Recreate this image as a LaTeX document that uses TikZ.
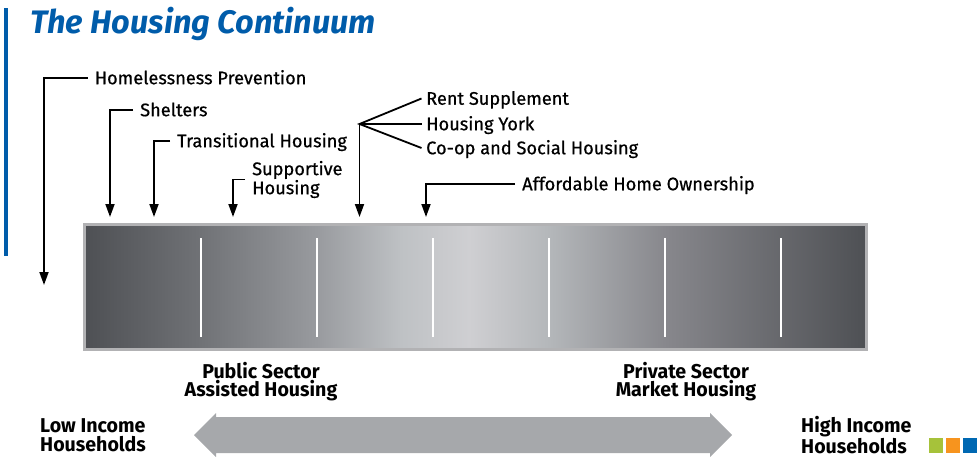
\documentclass[tikz,border=0pt]{standalone}
\usepackage{fontspec}
\setmainfont{Fira Sans}
\newfontfamily\tagfont[FakeBold=0.6]{Fira Sans}
\newfontfamily\condfont[FakeStretch=0.98]{Fira Sans}
\usetikzlibrary{arrows.meta}

\definecolor{titleblue}{RGB}{0,92,170}
\definecolor{barrim}{RGB}{178,178,180}
\definecolor{barend}{RGB}{78,80,84}
\definecolor{barA}{RGB}{112,114,118}
\definecolor{barB}{RGB}{152,154,158}
\definecolor{barC}{RGB}{190,193,196}
\definecolor{barD}{RGB}{207,207,210}
\definecolor{barE}{RGB}{180,183,186}
\definecolor{barF}{RGB}{135,135,140}
\definecolor{spangray}{RGB}{166,168,171}
\definecolor{squaregreen}{RGB}{166,194,58}
\definecolor{squareorange}{RGB}{247,148,30}
\definecolor{squareblue}{RGB}{0,104,178}

\pgfdeclarehorizontalshading{barshade}{100bp}{color(0bp)=(barend); color(25bp)=(barend);
  color(32.4bp)=(barA); color(39.8bp)=(barB); color(45.2bp)=(barC); color(49.6bp)=(barD);
  color(54.7bp)=(barE); color(62.2bp)=(barF); color(75bp)=(barend); color(100bp)=(barend)}

\tikzset{
  tag/.style={font=\tagfont\fontsize{18.2}{18}\selectfont, anchor=west, inner xsep=7pt, inner ysep=0pt, align=left},
  onetag/.style={tag, text height=12.5pt, text depth=0pt},
  fantag/.style={onetag, inner xsep=4.5pt},
  feed/.style={line width=1.8pt},
  pointer/.style={feed, -{Triangle[length=13pt,width=9pt]}},
  sector/.style={font=\condfont\bfseries\fontsize{20}{18.5}\selectfont, align=center, inner sep=0pt},
  income/.style={sector, align=left, anchor=west}
}

\begin{document}
\begin{tikzpicture}[x=1pt, y=-1pt]
    \useasboundingbox (0,0) rectangle (979,457);

    \def\tipy{217}

    \fill[titleblue] (4,8) rectangle (7.5,256);
    \node[anchor=base west, inner sep=0pt, text=titleblue, font=\bfseries\itshape\fontsize{32.5}{34}\selectfont] (title) at (30,34) {The Housing Continuum};

    % the continuum bar
    \node[draw=barrim, line width=3pt, shading=barshade, minimum width=782pt, minimum height=125pt, inner sep=0pt] (bar) at (475.5,286.5) {};
    \foreach \sx in {201,317,...,781}
        \draw[white, line width=1.6pt] (\sx,238) -- (\sx,337);

    \coordinate (tipHomeless) at (44,285);
    \coordinate (tipShelters) at (110,\tipy);
    \coordinate (tipTransit) at (154,\tipy);
    \coordinate (tipSupport) at (233,\tipy);
    \coordinate (tipFan) at (359.5,\tipy);
    \coordinate (tipOwner) at (426,\tipy);

    \node[onetag] (homeless) at (87.5,78) {Homelessness Prevention};
    \node[onetag] (shelters) at (133,110) {Shelters};
    \node[onetag] (transit) at (170,141) {Transitional Housing};
    \node[tag] (support) at (245,179.5) {Supportive\\Housing};
    \node[onetag] (owner) at (515,184) {Affordable Home Ownership};

    \draw[pointer] (homeless.west) -| (tipHomeless);
    \draw[pointer] (shelters.west) -| (tipShelters);
    \draw[pointer] (transit.west) -| (tipTransit);
    \draw[pointer] (support.west) -| (tipSupport);
    \draw[pointer] (owner.west) -| (tipOwner);

    % fan of three programs
    \coordinate (fan) at (359.5,124);
    \node[fantag] (rent) at (421.5,98.5) {Rent Supplement};
    \node[fantag] (york) at (421.5,124) {Housing York};
    \node[fantag] (coop) at (421.5,148) {Co-op and Social Housing};
    \draw[feed] (rent.west) -- (fan) -- (coop.west);
    \draw[feed] (york.west) -- (fan);
    \draw[pointer] (fan) -- (tipFan);

    \node[sector] (public) at (261,381.5) {Public Sector\\Assisted Housing};
    \node[sector] (private) at (686,381.5) {Private Sector\\Market Housing};

    \fill[spangray] (194,435) -- (216,413) -- (216,417) -- (710,417) -- (710,413) -- (732,435)
        -- (710,457) -- (710,453) -- (216,453) -- (216,457) -- cycle;
    \node[income] (low) at (40,435) {Low Income\\Households};
    \node[income] (high) at (801,435) {High Income\\Households};

    \fill[squaregreen] (929,438) rectangle (943,453);
    \fill[squareorange] (946,438) rectangle (960,453);
    \fill[squareblue] (963,438) rectangle (977,453);
\end{tikzpicture}
\end{document}
